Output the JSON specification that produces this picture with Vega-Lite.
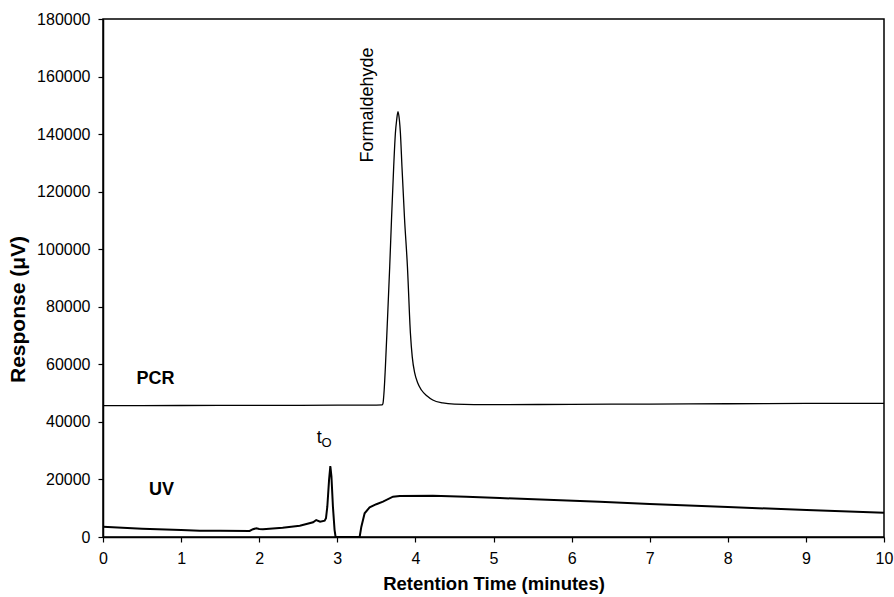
{
  "$schema": "https://vega.github.io/schema/vega-lite/v6.json",
  "width": 781,
  "height": 518,
  "autosize": "none",
  "padding": {"left": 103, "top": 19, "right": 10, "bottom": 60},
  "background": "white",
  "config": {
    "view": {"stroke": "black", "strokeWidth": 1.5},
    "font": "Liberation Sans",
    "axis": {
      "domainColor": "black", "domainWidth": 1.5, "tickColor": "black", "tickWidth": 1.2, "tickSize": 5,
      "labelFont": "Liberation Sans", "labelFontSize": 16, "labelColor": "black", "labelFlush": false,
      "titleFont": "Liberation Sans", "titleFontWeight": "bold", "titleColor": "black",
      "grid": false
    }
  },
  "datasets": {
    "uv": [
      {"t": 0, "r": 3580}, {"t": 0.5, "r": 2900}, {"t": 1.0, "r": 2400}, {"t": 1.24, "r": 2190},
      {"t": 1.5, "r": 2150}, {"t": 1.877, "r": 2085}, {"t": 1.92, "r": 2700}, {"t": 1.963, "r": 3020},
      {"t": 2.0, "r": 2800}, {"t": 2.048, "r": 2670}, {"t": 2.3, "r": 3230}, {"t": 2.52, "r": 3930},
      {"t": 2.69, "r": 5100}, {"t": 2.73, "r": 5900}, {"t": 2.78, "r": 5320}, {"t": 2.838, "r": 5660},
      {"t": 2.855, "r": 6500}, {"t": 2.872, "r": 10530}, {"t": 2.895, "r": 20000}, {"t": 2.911, "r": 24670},
      {"t": 2.925, "r": 21000}, {"t": 2.944, "r": 10530}, {"t": 2.965, "r": 2500}, {"t": 2.978, "r": 0},
      {"t": 3.286, "r": 0}, {"t": 3.308, "r": 3580}, {"t": 3.35, "r": 8230}, {"t": 3.414, "r": 10320},
      {"t": 3.5, "r": 11400}, {"t": 3.585, "r": 12270}, {"t": 3.713, "r": 14000}, {"t": 3.8, "r": 14250},
      {"t": 4.225, "r": 14350}, {"t": 4.65, "r": 14000}, {"t": 5.08, "r": 13550}, {"t": 6.36, "r": 12270},
      {"t": 7.0, "r": 11470}, {"t": 8.0, "r": 10420}, {"t": 9.01, "r": 9380}, {"t": 10, "r": 8450}
    ],
    "pcr": [
      {"t": 0, "r": 45630}, {"t": 1, "r": 45700}, {"t": 2, "r": 45750}, {"t": 3, "r": 45800},
      {"t": 3.5, "r": 45850}, {"t": 3.575, "r": 45900}, {"t": 3.585, "r": 46460}, {"t": 3.6, "r": 51000},
      {"t": 3.616, "r": 59180}, {"t": 3.64, "r": 74000}, {"t": 3.671, "r": 93930}, {"t": 3.695, "r": 111000},
      {"t": 3.722, "r": 128680}, {"t": 3.744, "r": 140400}, {"t": 3.76, "r": 144900}, {"t": 3.777, "r": 147800},
      {"t": 3.795, "r": 144900}, {"t": 3.808, "r": 140400}, {"t": 3.828, "r": 128680}, {"t": 3.86, "r": 111000},
      {"t": 3.898, "r": 93930}, {"t": 3.936, "r": 70890}, {"t": 3.96, "r": 62500}, {"t": 3.991, "r": 56990},
      {"t": 4.03, "r": 53500}, {"t": 4.077, "r": 51080}, {"t": 4.15, "r": 49000}, {"t": 4.222, "r": 47600},
      {"t": 4.35, "r": 46600}, {"t": 4.5, "r": 46200}, {"t": 5, "r": 46000}, {"t": 6, "r": 46100},
      {"t": 7, "r": 46200}, {"t": 8, "r": 46300}, {"t": 9, "r": 46400}, {"t": 10, "r": 46460}
    ],
    "boldlabels": [
      {"t": 0.673, "r": 54900, "label": "PCR"},
      {"t": 0.75, "r": 16330, "label": "UV"}
    ],
    "t0": [
      {"t": 2.77, "r": 34400, "label": "t"}
    ],
    "t0sub": [
      {"t": 2.864, "r": 32600, "label": "O"}
    ],
    "peaklabel": [
      {"t": 3.389, "r": 150100, "label": "Formaldehyde"}
    ]
  },
  "encoding": {
    "x": {
      "field": "t", "type": "quantitative",
      "scale": {"domain": [0, 10], "nice": false, "zero": false},
      "axis": {"values": [0,1,2,3,4,5,6,7,8,9,10], "title": "Retention Time (minutes)", "titleFontSize": 18.5, "labelPadding": 8, "titlePadding": 8}
    },
    "y": {
      "field": "r", "type": "quantitative",
      "scale": {"domain": [0, 180000], "nice": false},
      "axis": {"values": [0,20000,40000,60000,80000,100000,120000,140000,160000,180000], "format": "d", "title": "Response (\u03bcV)", "titleFontSize": 21, "titleY": 290, "labelPadding": 8, "titlePadding": 8}
    }
  },
  "layer": [
    {
      "data": {"name": "pcr"},
      "mark": {"type": "line", "color": "black", "strokeWidth": 1.3, "interpolate": "monotone"}
    },
    {
      "data": {"name": "uv"},
      "mark": {"type": "line", "color": "black", "strokeWidth": 2, "interpolate": "linear"}
    },
    {
      "data": {"name": "boldlabels"},
      "mark": {"type": "text", "font": "Liberation Sans", "fontSize": 18, "fontWeight": "bold", "color": "black", "align": "center", "baseline": "middle"},
      "encoding": {"text": {"field": "label"}}
    },
    {
      "data": {"name": "t0"},
      "mark": {"type": "text", "font": "Liberation Sans", "fontSize": 18, "color": "black", "align": "center", "baseline": "middle"},
      "encoding": {"text": {"field": "label"}}
    },
    {
      "data": {"name": "t0sub"},
      "mark": {"type": "text", "font": "Liberation Sans", "fontSize": 13, "color": "black", "align": "center", "baseline": "middle"},
      "encoding": {"text": {"field": "label"}}
    },
    {
      "data": {"name": "peaklabel"},
      "mark": {"type": "text", "font": "Liberation Sans", "fontSize": 18, "color": "black", "align": "center", "baseline": "middle", "angle": 270},
      "encoding": {"text": {"field": "label"}}
    }
  ]
}
